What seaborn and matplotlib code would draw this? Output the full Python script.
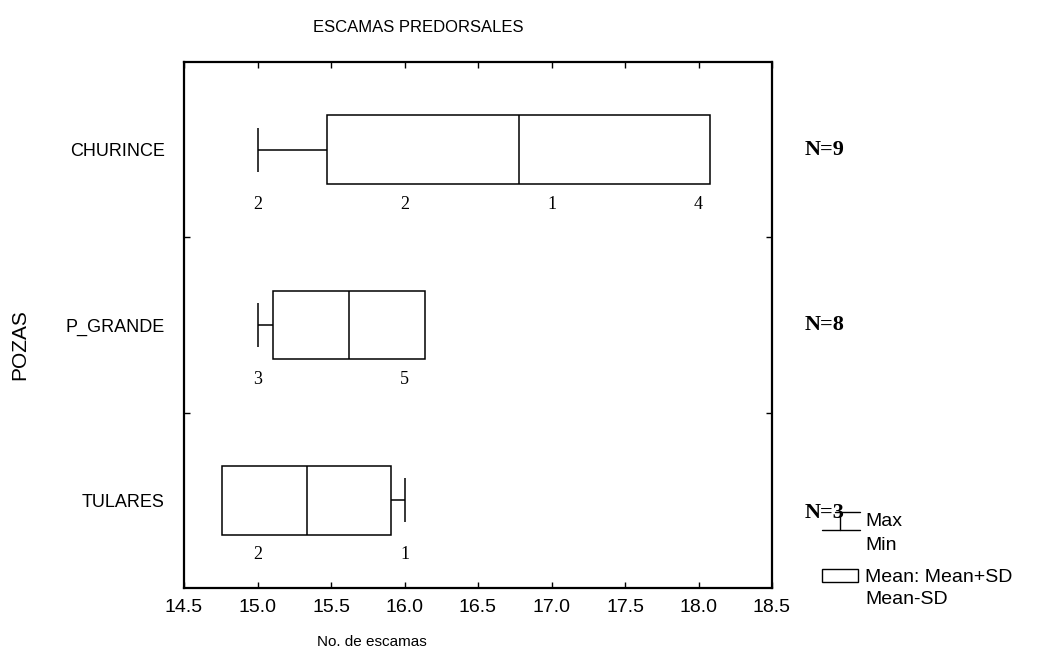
import matplotlib
matplotlib.use("Agg")
import matplotlib.pyplot as plt
from matplotlib.lines import Line2D
from matplotlib.patches import Rectangle
import numpy as np
import seaborn as sns

# ─── DATA ────────────────────────────────────────────────────────────────────
POZAS = ["CHURINCE", "P_GRANDE", "TULARES"]
VALORES = [15, 16, 17, 18]            # scale counts (No. de escamas)
CHURINCE_N = [2, 2, 1, 4]             # frequency of each value
P_GRANDE_N = [3, 5, 0, 0]
TULARES_N = [2, 1, 0, 0]
CONTEOS = [CHURINCE_N, P_GRANDE_N, TULARES_N]
XTICKS = [14.5, 15.0, 15.5, 16.0, 16.5, 17.0, 17.5, 18.0, 18.5]

# ─── STYLE ───────────────────────────────────────────────────────────────────
sns.set_theme(style="ticks")
plt.rcParams['font.family'] = ['Liberation Sans', 'DejaVu Sans']
plt.rcParams['text.color'] = 'black'
SERIF = ['Liberation Serif', 'DejaVu Serif']

W, H = 1037, 655
fig = plt.figure(figsize=(W / 100, H / 100), dpi=100)
ax = fig.add_axes([184 / W, 1 - 588 / H, (772 - 184) / W, (588 - 62) / H])


def fp(x, y):
    # figure pixel -> figure fraction
    return x / W, 1 - y / H


BOX_H = 0.39
CAP_H = 0.25
LW = 1.1

for i, cnt in enumerate(CONTEOS):
    obs = np.repeat(VALORES, cnt)
    mean, sd = obs.mean(), obs.std(ddof=1)
    lo, hi = mean - sd, mean + sd
    mn, mx = obs.min(), obs.max()

    # box mean-SD .. mean+SD
    ax.barh(i, hi - lo, left=lo, height=BOX_H, facecolor='white',
            edgecolor='black', linewidth=LW, zorder=3)
    ax.vlines(mean, i - BOX_H / 2, i + BOX_H / 2, color='black', lw=LW, zorder=4)

    # whiskers to min / max when they fall outside the box
    if mn < lo:
        ax.hlines(i, mn, lo, color='black', lw=LW, zorder=2)
        ax.vlines(mn, i - CAP_H / 2, i + CAP_H / 2, color='black', lw=LW, zorder=2)
    if mx > hi:
        ax.hlines(i, hi, mx, color='black', lw=LW, zorder=2)
        ax.vlines(mx, i - CAP_H / 2, i + CAP_H / 2, color='black', lw=LW, zorder=2)

    # frequency annotations under each box
    for v, c in zip(VALORES, cnt):
        if c > 0:
            ax.text(v, i + 0.31, str(c), ha='center', va='center',
                    family=SERIF, fontsize=13, color='black')

    # sample size at right
    ny = i + (0.07 if i == 2 else 0.0)
    ax.text(1.055, ny, f"N={obs.size}", transform=ax.get_yaxis_transform(),
            ha='left', va='center', family=SERIF, fontsize=16,
            fontweight='bold', color='black', clip_on=False)

ax.set_xlim(14.5, 18.5)
ax.set_ylim(2.5, -0.5)
ax.set_xticks(XTICKS)
ax.set_xticklabels([f"{t:.1f}" for t in XTICKS], fontsize=14)
ax.set_yticks(range(len(POZAS)))
ax.set_yticklabels(POZAS, fontsize=13)
ax.set_yticks([0.5, 1.5], minor=True)
ax.tick_params(axis='x', direction='in', top=True, length=4, width=1,
               pad=8, colors='black')
ax.tick_params(axis='y', which='major', length=0, pad=14, colors='black')
ax.tick_params(axis='y', which='minor', direction='in', left=True, right=True,
               length=4, width=1, colors='black')
for s in ax.spines.values():
    s.set_linewidth(1.6)
    s.set_color('black')
ax.grid(False)

# titles and axis names (positioned as in the original scan)
fig.text(*fp(418, 28), "ESCAMAS PREDORSALES", ha='center', va='center', fontsize=12)
fig.text(*fp(372, 642), "No. de escamas", ha='center', va='center', fontsize=11)
fig.text(*fp(20, 345), "POZAS", ha='center', va='center', rotation=90, fontsize=15)

# legend drawn by hand
tf = fig.transFigure
for (x0, y0), (x1, y1) in [((835, 512), (860, 512)),
                           ((840, 512), (840, 530)),
                           ((822, 530), (860, 530))]:
    a, b = fp(x0, y0), fp(x1, y1)
    fig.add_artist(Line2D([a[0], b[0]], [a[1], b[1]], color='black', lw=1.0, transform=tf))
rx, ry = fp(822, 582)
fig.add_artist(Rectangle((rx, ry), 36 / W, 13 / H, facecolor='white',
                         edgecolor='black', lw=1.0, transform=tf))
for y, t in [(522, "Max"), (545, "Min"), (578, "Mean: Mean+SD"), (600, "Mean-SD")]:
    fig.text(*fp(865, y), t, ha='left', va='center', fontsize=14)

fig.savefig("out.png", dpi=100, facecolor='white')
